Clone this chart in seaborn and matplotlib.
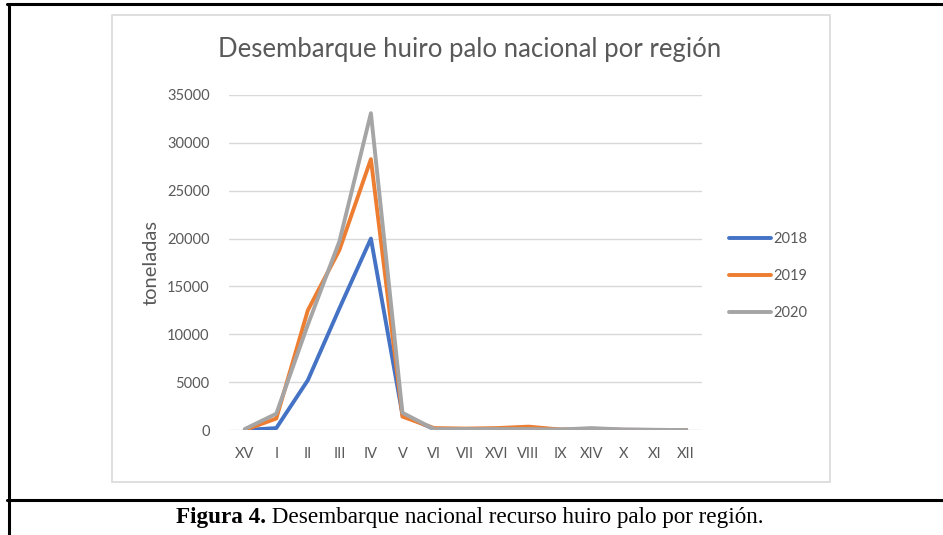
import matplotlib
matplotlib.use("Agg")
import matplotlib.pyplot as plt
import seaborn as sns
import pandas as pd
from matplotlib.lines import Line2D
from matplotlib.patches import Rectangle

regions = ["XV", "I", "II", "III", "IV", "V", "VI", "VII", "XVI", "VIII", "IX", "XIV", "X", "XI", "XII"]
y2018 = [0, 200, 5200, 12700, 20000, 1600, 100, 80, 80, 100, 30, 60, 20, 10, 0]
y2019 = [0, 1200, 12500, 18800, 28300, 1400, 200, 150, 200, 350, 50, 100, 20, 10, 0]
y2020 = [100, 1700, 11000, 19700, 33100, 1800, 100, 100, 100, 100, 50, 200, 50, 10, 0]
years = ["2018", "2019", "2020"]
colors = ["#4472C4", "#ED7D31", "#A5A5A5"]

rows = []
for yr, vals in zip(years, [y2018, y2019, y2020]):
    for i, (r, v) in enumerate(zip(regions, vals)):
        rows.append({"pos": i, "region": r, "toneladas": v, "year": yr})
df = pd.DataFrame(rows)

sns.set_theme(style="white")
plt.rcParams["font.family"] = ["Lato", "DejaVu Sans"]

W, H = 943, 535
fig = plt.figure(figsize=(W / 100, H / 100), dpi=100)
ax = fig.add_axes([229 / W, 1 - 430 / H, (702 - 229) / W, (430 - 95) / H])

sns.lineplot(data=df, x="pos", y="toneladas", hue="year", palette=colors,
             sort=False, linewidth=2.8, ax=ax, legend=False)

ax.set_xlim(-0.5, len(regions) - 0.5)
ax.set_ylim(0, 35000)
ax.set_xticks(range(len(regions)))
ax.set_xticklabels(regions)
ax.set_yticks(range(0, 35001, 5000))
ax.yaxis.grid(True, color="#D9D9D9", linewidth=1)
ax.xaxis.grid(False)
for s in ax.spines.values():
    s.set_visible(False)
ax.tick_params(axis="both", length=0, labelsize=10.5, labelcolor="#595959")
ax.tick_params(axis="x", pad=12)
ax.tick_params(axis="y", pad=14)
ax.set_xlabel("")
ax.set_ylabel("toneladas", fontsize=14.5, color="#595959", labelpad=5)

handles = [Line2D([0], [0], color=c, lw=2.8) for c in colors]
fig.legend(handles, years, loc="center left", bbox_to_anchor=(716 / W, 1 - 276 / H),
           frameon=False, fontsize=10.5, labelcolor="#595959", handlelength=2.9,
           handletextpad=0.15, labelspacing=1.6)

fig.text(470 / W, 1 - 50 / H, "Desembarque huiro palo nacional por región",
         ha="center", va="center", fontsize=18.5, color="#595959")

# chart border
fig.add_artist(Rectangle((112 / W, 1 - 482 / H), (830 - 112) / W, (482 - 15) / H,
                         transform=fig.transFigure, fill=False, edgecolor="#D9D9D9", lw=1.2))
# page frame lines
fig.add_artist(Line2D([8.5 / W, 8.5 / W], [1 - 3.5 / H, 0], transform=fig.transFigure, color="black", lw=2.2))
fig.add_artist(Line2D([7.5 / W, 1], [1 - 4 / H, 1 - 4 / H], transform=fig.transFigure, color="black", lw=2.2))
fig.add_artist(Line2D([7.5 / W, 1], [1 - 500 / H, 1 - 500 / H], transform=fig.transFigure, color="black", lw=2.2))

# caption: bold part + regular part, centred as a whole
cap_font = "Liberation Serif"
cap_size = 16.7
t1 = fig.text(0, 1 - 518 / H, "Figura 4.", ha="left", va="center", fontsize=cap_size,
              family=cap_font, fontweight="bold", color="black")
t2 = fig.text(0, 1 - 518 / H, " Desembarque nacional recurso huiro palo por región.", ha="left",
              va="center", fontsize=cap_size, family=cap_font, color="black")
fig.canvas.draw()
r = fig.canvas.get_renderer()
w1 = t1.get_window_extent(r).width
w2 = t2.get_window_extent(r).width
x0 = 470 - (w1 + w2) / 2
t1.set_x(x0 / W)
t2.set_x((x0 + w1) / W)

fig.savefig("out.png", dpi=100)
